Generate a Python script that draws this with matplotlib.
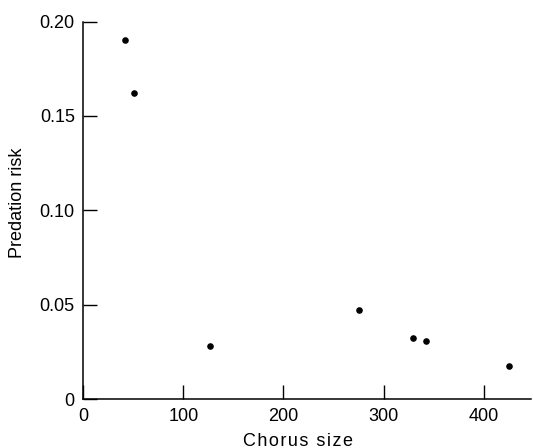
import matplotlib.pyplot as plt

plt.rcParams['font.family'] = ['Liberation Sans', 'DejaVu Sans']

chorus_size = [42, 51, 127, 275, 329, 342, 425]
predation_risk = [0.190, 0.162, 0.028, 0.047, 0.0325, 0.031, 0.0177]

x_ticks = [0, 100, 200, 300, 400]
y_ticks = [0, 0.05, 0.10, 0.15, 0.20]
y_labels = ['0', '0.05', '0.10', '0.15', '0.20']

fig = plt.figure(figsize=(5.33, 4.48), dpi=100)
ax = fig.add_axes([0.156, 0.109, 0.840, 0.843])

ax.scatter(chorus_size, predation_risk, s=14, color='black', zorder=3)

ax.set_xlim(0, 447)
ax.set_ylim(0, 0.20)
ax.set_xticks(x_ticks)
ax.set_yticks(y_ticks)
ax.set_yticklabels(y_labels)

for side in ['top', 'right']:
    ax.spines[side].set_visible(False)
for side in ['left', 'bottom']:
    ax.spines[side].set_linewidth(1.1)

ax.tick_params(direction='in', length=10, width=1.0, labelsize=13, pad=6)

# slightly spaced-out axis titles, like the original typesetting
hair = '\u200a'
xlab = hair.join('Chorus size')
fig.text(298 / 533, 2.5 / 448, xlab, fontsize=13, ha='center', va='baseline')
fig.text(17.5 / 533, (448 - 203) / 448, 'Predation risk', fontsize=13,
         rotation=90, ha='center', va='center')

fig.savefig('out.png', dpi=100)
plt.close(fig)
